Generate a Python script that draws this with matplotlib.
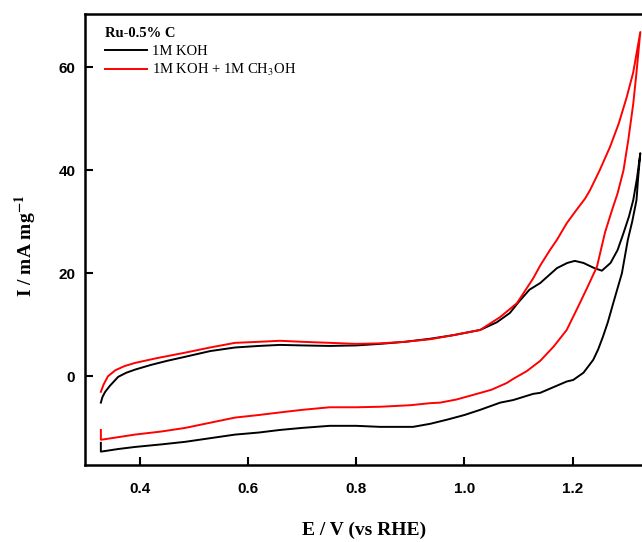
import matplotlib
matplotlib.use("Agg")
import matplotlib.pyplot as plt
import numpy as np

# 1M KOH, forward (anodic) scan
koh_fwd_e = [0.328, 0.331, 0.336, 0.345, 0.360, 0.375, 0.391, 0.42, 0.45, 0.484, 0.53, 0.576,
             0.62, 0.659, 0.70, 0.751, 0.80, 0.844, 0.89, 0.937, 0.98, 1.029, 1.06, 1.084,
             1.10, 1.12, 1.140, 1.171, 1.19, 1.204, 1.22, 1.24, 1.254, 1.270, 1.283, 1.294,
             1.304, 1.312, 1.319, 1.325]
koh_fwd_i = [-5.1, -4.0, -3.0, -1.8, -0.1, 0.7, 1.3, 2.2, 3.0, 3.8, 4.9, 5.6,
             5.9, 6.1, 6.0, 5.9, 6.0, 6.3, 6.7, 7.3, 8.0, 9.0, 10.5, 12.3,
             14.4, 16.8, 18.1, 21.0, 22.0, 22.4, 22.0, 21.0, 20.5, 22.0, 24.5, 27.8,
             31.0, 34.2, 38.5, 43.3]
# 1M KOH, reverse scan
koh_rev_e = [1.325, 1.321, 1.318, 1.310, 1.302, 1.291, 1.275, 1.265, 1.256, 1.247, 1.238,
             1.220, 1.201, 1.189, 1.160, 1.140, 1.127, 1.090, 1.066, 1.029, 1.000, 0.968,
             0.937, 0.905, 0.87, 0.844, 0.80, 0.751, 0.70, 0.659, 0.62, 0.576, 0.53, 0.484,
             0.44, 0.391, 0.36, 0.335, 0.328, 0.328]
koh_rev_i = [43.3, 38.5, 34.2, 30.0, 26.5, 20.0, 14.2, 10.5, 7.7, 5.2, 3.2,
             0.7, -0.7, -1.0, -2.3, -3.2, -3.4, -4.6, -5.1, -6.5, -7.5, -8.4,
             -9.2, -9.8, -9.8, -9.8, -9.6, -9.6, -10.0, -10.4, -10.9, -11.3, -12.0, -12.7,
             -13.2, -13.7, -14.1, -14.5, -14.6, -12.9]

# 1M KOH + 1M CH3OH, forward scan
meoh_fwd_e = [0.328, 0.333, 0.341, 0.355, 0.372, 0.391, 0.43, 0.484, 0.53, 0.576, 0.62,
              0.659, 0.70, 0.751, 0.80, 0.844, 0.89, 0.937, 0.98, 1.029, 1.066, 1.097,
              1.127, 1.140, 1.158, 1.171, 1.189, 1.205, 1.223, 1.232, 1.25, 1.269, 1.285,
              1.300, 1.312, 1.325]
meoh_fwd_i = [-3.0, -1.6, 0.0, 1.2, 2.0, 2.6, 3.5, 4.6, 5.6, 6.5, 6.7,
              6.9, 6.7, 6.5, 6.3, 6.4, 6.7, 7.2, 8.0, 9.0, 11.5, 14.2,
              19.0, 21.5, 24.5, 26.5, 29.7, 32.0, 34.5, 36.1, 40.0, 44.5, 49.0,
              54.2, 59.0, 66.8]
# 1M KOH + 1M CH3OH, reverse scan
meoh_rev_e = [1.325, 1.318, 1.312, 1.303, 1.294, 1.283, 1.272, 1.260, 1.251, 1.245, 1.226,
              1.21, 1.189, 1.165, 1.140, 1.115, 1.090, 1.078, 1.050, 1.016, 0.985, 0.955,
              0.937, 0.90, 0.844, 0.80, 0.751, 0.70, 0.659, 0.62, 0.576, 0.53, 0.484,
              0.44, 0.391, 0.36, 0.335, 0.328, 0.328]
meoh_rev_i = [66.8, 59.0, 52.9, 46.0, 40.0, 35.5, 32.0, 28.0, 24.0, 21.3, 17.0,
              13.5, 9.0, 5.8, 3.0, 1.0, -0.5, -1.3, -2.6, -3.6, -4.5, -5.1,
              -5.2, -5.6, -5.9, -6.0, -6.0, -6.5, -7.0, -7.5, -8.0, -9.0, -10.0,
              -10.7, -11.3, -11.8, -12.2, -12.3, -10.4]

x_ticks = [0.4, 0.6, 0.8, 1.0, 1.2]
y_ticks = [0, 20, 40, 60]

plt.rcParams["mathtext.fontset"] = "stix"
serif = "Liberation Serif"
sans = "Liberation Sans"

fig = plt.figure(figsize=(6.42, 5.42), dpi=100)
W, H = 642, 542
ax = fig.add_axes([85 / W, 1 - 465 / H, 558 / W, 451 / H])

ax.plot(koh_fwd_e + koh_rev_e, koh_fwd_i + koh_rev_i, color="black", lw=1.4, label="1M KOH")
ax.plot(meoh_fwd_e + meoh_rev_e, meoh_fwd_i + meoh_rev_i, color="#ff0000", lw=1.4,
        label="1M KOH + 1M CH$_3$OH")

ax.set_xlim(0.2987, 1.33)
ax.set_ylim(-17.2, 70.3)
ax.set_xticks(x_ticks)
ax.set_xticklabels([f"{t:.1f}" for t in x_ticks])
ax.set_yticks(y_ticks)
ax.set_yticklabels([str(t) for t in y_ticks])

ax.spines["right"].set_visible(False)
for s in ["left", "bottom", "top"]:
    ax.spines[s].set_linewidth(1.8)

ax.tick_params(axis="both", direction="in", length=6, width=1.5)
ax.tick_params(axis="x", pad=12)
ax.tick_params(axis="y", pad=7)
for lab in ax.get_xticklabels() + ax.get_yticklabels():
    lab.set_fontfamily(sans)
    lab.set_fontweight("bold")
    lab.set_fontsize(11)

ax.set_xlabel("E / V (vs RHE)", fontfamily=serif, fontweight="bold", fontsize=14)
ax.xaxis.set_label_coords(0.5, -0.125)
ax.set_ylabel("I / mA mg$^{\\mathbf{-1}}$", fontfamily=serif, fontweight="bold", fontsize=14)
ax.yaxis.set_label_coords(-0.083, 0.485)

leg = ax.legend(loc="upper left", bbox_to_anchor=(0.02, 0.99), frameon=False,
                title="Ru-0.5% C", alignment="left",
                prop={"family": serif, "size": 10.5},
                title_fontproperties={"family": serif, "weight": "bold", "size": 10.5},
                handlelength=2.9, handletextpad=0.35, labelspacing=0.3, borderaxespad=0.2)

fig.savefig("out.png", dpi=100)
